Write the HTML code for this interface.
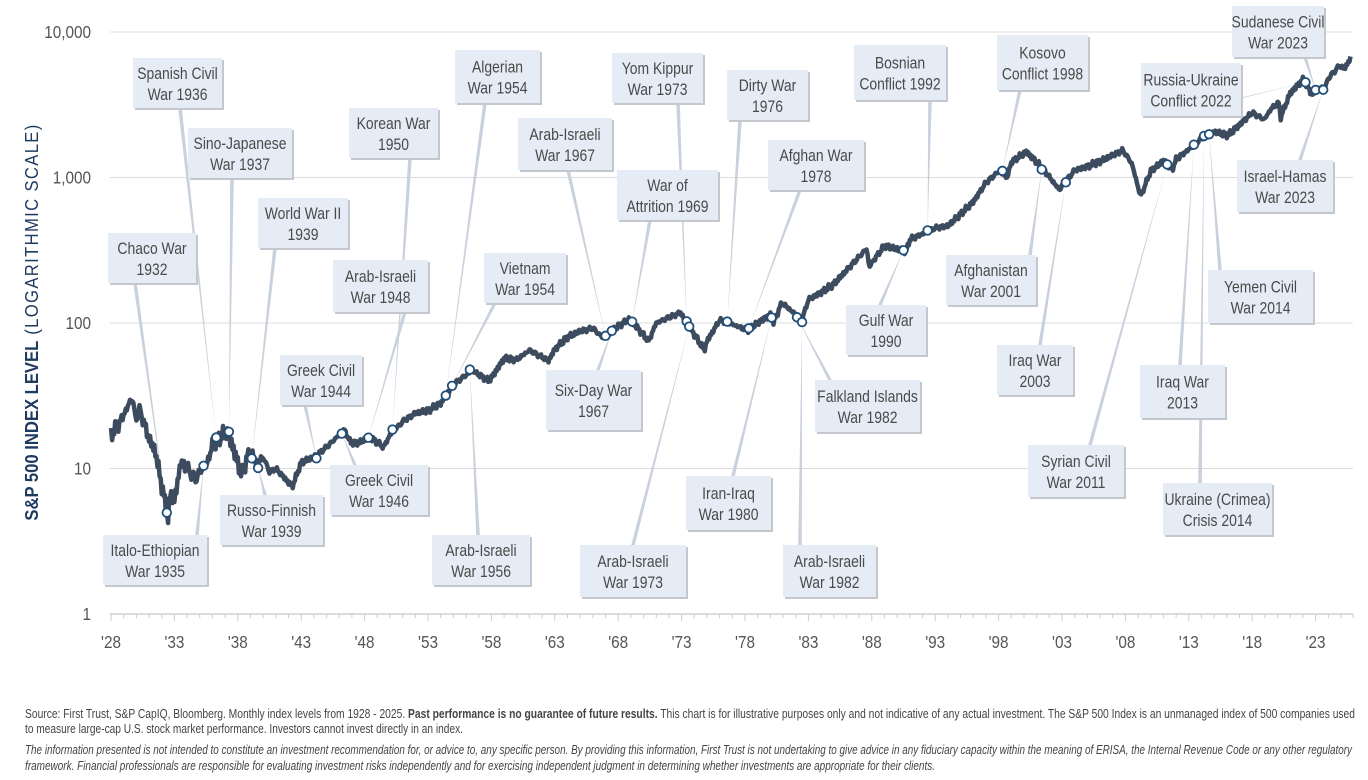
<!DOCTYPE html>
<html><head><meta charset="utf-8"><style>
html,body{margin:0;padding:0;background:#fff;}
svg{display:block;}
text{font-family:"Liberation Sans Narrow","Liberation Sans",sans-serif;}
</style></head><body>
<svg id="s" width="1368" height="780" xmlns="http://www.w3.org/2000/svg">
<g id="grid"></g>
<g id="axis"></g>
<g id="leaders"></g>
<g id="boxes"></g>
<path id="line" fill="none" stroke="#3d4b5e" stroke-width="4.5" stroke-linejoin="round"/>
<g id="marks"></g>
<text transform="translate(38,322) rotate(-90) scale(0.9,1)" text-anchor="middle" font-size="18.5" fill="#1f3a5f"><tspan font-weight="bold">S&amp;P 500 INDEX LEVEL</tspan><tspan letter-spacing="1.5"> (LOGARITHMIC SCALE)</tspan></text>
<g font-size="12.5" fill="#444">
<text x="25" y="718" textLength="1330" lengthAdjust="spacingAndGlyphs">Source: First Trust, S&amp;P CapIQ, Bloomberg. Monthly index levels from 1928 - 2025. <tspan font-weight="bold">Past performance is no guarantee of future results.</tspan> This chart is for illustrative purposes only and not indicative of any actual investment. The S&amp;P 500 Index is an unmanaged index of 500 companies used</text>
<text x="25" y="733" textLength="438" lengthAdjust="spacingAndGlyphs">to measure large-cap U.S. stock market performance. Investors cannot invest directly in an index.</text>
<text x="25" y="754" font-style="italic" textLength="1327" lengthAdjust="spacingAndGlyphs">The information presented is not intended to constitute an investment recommendation for, or advice to, any specific person. By providing this information, First Trust is not undertaking to give advice in any fiduciary capacity within the meaning of ERISA, the Internal Revenue Code or any other regulatory</text>
<text x="25" y="770" font-style="italic" textLength="910" lengthAdjust="spacingAndGlyphs">framework. Financial professionals are responsible for evaluating investment risks independently and for exercising independent judgment in determining whether investments are appropriate for their clients.</text>
</g>
</svg>
<script>
var NS="http://www.w3.org/2000/svg";
function el(p,t,a,txt){var e=document.createElementNS(NS,t);for(var k in a)e.setAttribute(k,a[k]);if(txt!=null)e.textContent=txt;(typeof p=="string"?document.getElementById(p):p).appendChild(e);return e;}
function X(t){return 111+(t-1928)*12.68;}
function Y(v){return 614-Math.log10(v)*145.5;}
[[1,"1"],[10,"10"],[100,"100"],[1000,"1,000"],[10000,"10,000"]].forEach(function(g){
 if(g[0]>1) el("grid","line",{x1:110,x2:1353,y1:Y(g[0]),y2:Y(g[0]),stroke:"#dcdcdc","stroke-width":1});
 var gg=el("grid","g",{transform:"translate(91,"+(Y(g[0])+6)+") scale(0.85,1)"});
 el(gg,"text",{x:0,y:0,"text-anchor":"end","font-size":18,fill:"#555"},g[1]);
});
el("axis","line",{x1:110,x2:1353,y1:614,y2:614,stroke:"#d0d0d0","stroke-width":1.5});
for(var yr=1928;yr<=2025;yr++){var major=(yr-1928)%5==0;
 el("axis","line",{x1:X(yr),x2:X(yr),y1:614,y2:major?621:618,stroke:"#ccc","stroke-width":1});
 if(major){var gg=el("axis","g",{transform:"translate("+X(yr)+",648) scale(0.85,1)"});el(gg,"text",{x:0,y:0,"text-anchor":"middle","font-size":18,fill:"#555"},"'"+String(yr).slice(2));}}
el("axis","line",{x1:1353,x2:1353,y1:614,y2:618,stroke:"#ccc"});
var P=[[1928,17],[1928.6,20],[1929.7,31],[1929.9,22],[1930.3,25],[1931,16],[1931.5,13],[1932.5,4.5],[1932.7,7],[1933,6],[1933.5,11],[1934,10],[1934.7,8.5],[1935,9.5],[1935.6,11],[1936,14.5],[1937.1,18],[1937.5,15],[1938.3,9],[1938.9,13],[1939.5,11],[1940,12],[1940.5,9.5],[1941,10],[1942.3,7.5],[1943,11],[1944,12],[1945,14],[1946.4,18.5],[1946.9,15],[1947.5,15],[1948.4,16.5],[1949.5,14],[1950,17],[1951,21],[1952,24],[1953,25],[1954,28],[1955,38],[1956.5,47],[1957.8,40],[1958,42],[1959,57],[1960,56],[1961,65],[1962.5,55],[1963,66],[1964,80],[1965,88],[1966,92],[1966.8,79],[1968,95],[1968.9,107],[1970.4,75],[1971,100],[1972.9,118],[1974.8,65],[1975,75],[1976,105],[1977,98],[1978.2,89],[1979,100],[1980.1,115],[1980.25,100],[1980.9,138],[1982.5,105],[1983,145],[1984,162],[1985,185],[1987.6,325],[1987.8,240],[1988,260],[1989,340],[1990.7,310],[1991,375],[1992,410],[1993,450],[1994,465],[1995,560],[1996,680],[1997,920],[1998,1100],[1998.7,1000],[1999,1280],[2000.2,1500],[2001.5,1150],[2002.8,820],[2003,880],[2004,1120],[2005,1190],[2006,1290],[2007.8,1540],[2008.5,1250],[2009.2,740],[2010,1110],[2011,1300],[2011.7,1140],[2012,1330],[2013,1560],[2014,1850],[2015,2060],[2016.1,1950],[2017,2300],[2018,2790],[2018.95,2500],[2019.5,2980],[2020.1,3250],[2020.25,2590],[2020.8,3450],[2021,3800],[2022,4700],[2022.8,3650],[2023,4000],[2023.8,4250],[2024,4800],[2024.9,5900],[2025.25,5550],[2025.8,6700]];
function base(t){for(var i=0;i<P.length-1;i++){if(t<=P[i+1][0]){var a=P[i],b=P[i+1],f=(t-a[0])/(b[0]-a[0]);return Math.exp(Math.log(a[1])*(1-f)+Math.log(b[1])*f);}}return P[P.length-1][1];}
function val(t){var amp=(t<1940)?0.07:0.025;return base(t)*Math.exp(amp*(Math.sin(t*37.1)+0.7*Math.sin(t*91.7+1)+0.5*Math.sin(t*13.3+2)));}
var d="";for(var t=1928;t<=2025.8;t+=1/12){d+=(d?"L":"M")+X(t).toFixed(1)+","+Y(val(t)).toFixed(1);}
document.getElementById("line").setAttribute("d",d);
var L=[
[133,58,89,50,"Spanish Civil","War 1936",1936.3,180,108],
[188,128,104,50,"Sino-Japanese","War 1937",1937.3,232,178],
[258,198,90,50,"World War II","1939",1939.1,275,248],
[108,233,88,50,"Chaco War","1932",1932.4,135,283],
[103,535,104,50,"Italo-Ethiopian","War 1935",1935.3,197,535],
[220,495,103,50,"Russo-Finnish","War 1939",1939.6,265,495],
[280,355,82,50,"Greek Civil","War 1944",1944.2,305,405],
[330,465,98,50,"Greek Civil","War 1946",1946.2,355,465],
[333,260,95,52,"Arab-Israeli","War 1948",1948.3,405,312],
[349,108,89,50,"Korean War","1950",1950.2,410,158],
[455,50,85,53,"Algerian","War 1954",1954.4,485,103],
[484,253,82,50,"Vietnam","War 1954",1954.9,495,303],
[432,535,98,50,"Arab-Israeli","War 1956",1956.3,478,535],
[518,118,94,52,"Arab-Israeli","War 1967",1967.0,568,170],
[546,370,95,60,"Six-Day War","1967",1967.5,598,370],
[617,170,101,50,"War of","Attrition 1969",1969.1,650,220],
[612,53,91,50,"Yom Kippur","War 1973",1973.4,678,103],
[580,545,106,52,"Arab-Israeli","War 1973",1973.6,633,545],
[727,70,81,50,"Dirty War","1976",1976.6,740,120],
[768,140,96,50,"Afghan War","1978",1978.3,800,190],
[686,476,85,54,"Iran-Iraq","War 1980",1980.1,733,476],
[815,380,105,52,"Falkland Islands","War 1982",1982.1,830,380],
[783,545,93,52,"Arab-Israeli","War 1982",1982.5,800,545],
[854,45,92,55,"Bosnian","Conflict 1992",1992.4,930,100],
[846,305,80,50,"Gulf War","1990",1990.5,880,305],
[997,35,91,55,"Kosovo","Conflict 1998",1998.3,1020,90],
[946,255,90,50,"Afghanistan","War 2001",2001.4,1030,255],
[997,345,76,50,"Iraq War","2003",2003.3,1040,345],
[1028,445,96,52,"Syrian Civil","War 2011",2011.3,1090,445],
[1140,365,85,53,"Iraq War","2013",2013.4,1180,365],
[1163,483,109,52,"Ukraine (Crimea)","Crisis 2014",2014.2,1200,483],
[1208,270,105,53,"Yemen Civil","War 2014",2014.6,1220,270],
[1232,6,92,51,"Sudanese Civil","War 2023",2023.0,1305,57],
[1141,63,100,53,"Russia-Ukraine","Conflict 2022",2022.2,1241,98],
[1237,160,96,52,"Israel-Hamas","War 2023",2023.6,1300,160]];
L.forEach(function(l){
 var mt=l[6],mx=X(mt),my=Y(val(mt));
 el("leaders","polygon",{points:(l[7]-1.8)+","+l[8]+" "+(l[7]+1.8)+","+l[8]+" "+mx+","+my,fill:"#c9d1dc"});
 el("boxes","rect",{x:l[0]+2,y:l[1]+2,width:l[2],height:l[3],fill:"#c4c8ce"});
 el("boxes","rect",{x:l[0],y:l[1],width:l[2],height:l[3],fill:"#e5ecf5"});
 var cx=l[0]+l[2]/2,cy=l[1]+l[3]/2;
 var g=el("boxes","g",{transform:"translate("+cx+","+cy+") scale(0.82,1)"});
 el(g,"text",{x:0,y:-4,"text-anchor":"middle","font-size":17,fill:"#4a4a4a"},l[4]);
 el(g,"text",{x:0,y:17,"text-anchor":"middle","font-size":17,fill:"#4a4a4a"},l[5]);
 el("marks","circle",{cx:mx,cy:my,r:4.3,fill:"#fff",stroke:"#1f4e79","stroke-width":1.8});
});
</script>
</body></html>
